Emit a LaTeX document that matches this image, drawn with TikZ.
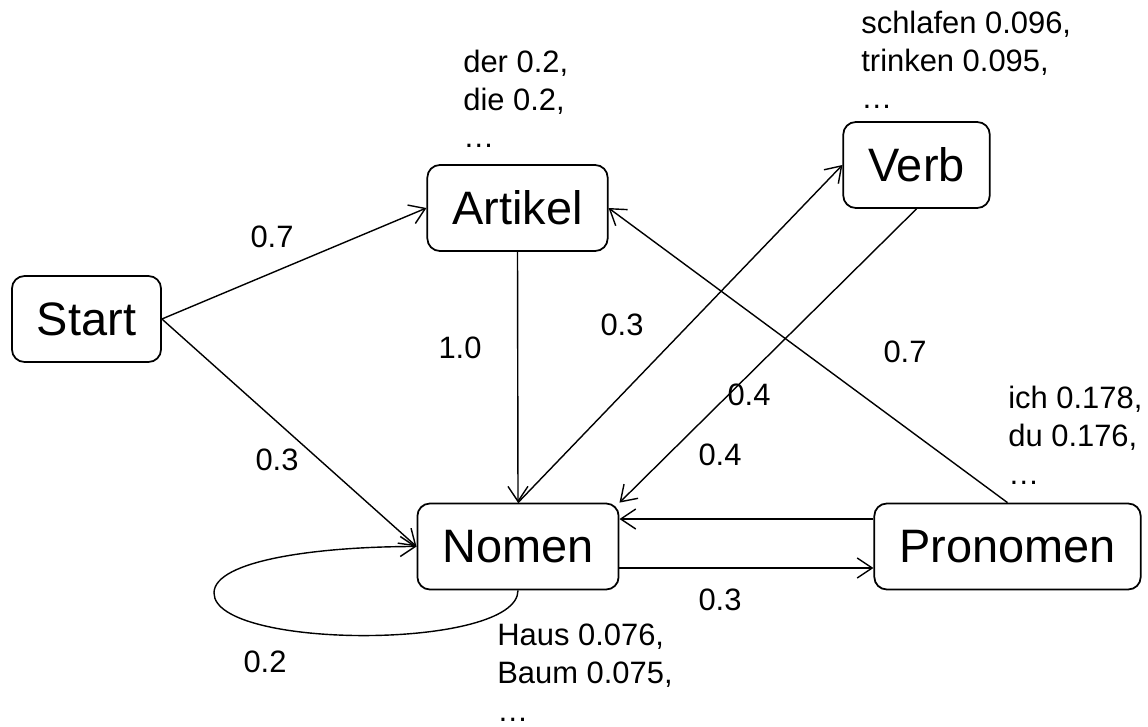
\documentclass[tikz,border=0pt]{standalone}
\usepackage{fontspec}
\setmainfont{Liberation Sans}
\usetikzlibrary{positioning,arrows.meta,calc}

\begin{document}
\begin{tikzpicture}[x=0.02cm,y=-0.02cm,
  state/.style={draw,line width=1pt,rounded corners=0.25cm,minimum height=1.72cm,
    inner xsep=0.5cm,font=\fontsize{26.7}{32}\selectfont},
  prob/.style={font=\fontsize{17.6}{21.6}\selectfont,inner sep=0pt},
  words/.style={prob,align=left,anchor=base west},
  trans/.style={line width=0.8pt,-{Straight Barb[length=0.3cm,width=0.4cm]}}]
  \useasboundingbox (0,0) rectangle (1148,726);
  % states
  \node[state] (start)    at (86.5,319)   {Start};
  \node[state] (artikel)  at (517.5,208)  {Artikel};
  \node[state] (verb)     at (916.5,165)  {Verb};
  \node[state] (nomen)    at (518,546.5)  {Nomen};
  \node[state] (pronomen) at (1007.5,546.5) {Pronomen};
  % transitions
  \draw[trans] (start.east) -- (artikel.west);
  \draw[trans] (start.east) -- (nomen.west);
  \draw[trans] (artikel.south) -- (nomen.north);
  \draw[trans] (nomen.north) -- (verb.west);
  \draw[trans] (verb.south) -- (nomen.north east);
  \draw[trans] (pronomen.north) -- (artikel.east);
  \draw[trans] ([yshift=0.55cm]pronomen.west) -- ([yshift=0.55cm]nomen.east);
  \draw[trans] ([yshift=-0.43cm]nomen.east) -- ([yshift=-0.43cm]pronomen.west);
  \coordinate (loopL) at (214,593);
  \draw[trans] (nomen.south) .. controls +(0,60) and +(0,57) .. (loopL)
    .. controls +(0,-33) and +(-97,0) .. (nomen.west);
  % transition probabilities
  \node[prob] (pSA) at (272,237) {0.7};
  \node[prob] (pSN) at (277,460) {0.3};
  \node[prob] (pAN) at (460,348) {1.0};
  \node[prob] (pNV) at (622,325) {0.3};
  \node[prob] (pPA) at (905,352) {0.7};
  \node[prob] (pVN) at (749,395) {0.4};
  \node[prob] (pPN) at (720,455) {0.4};
  \node[prob] (pNP) at (720,600) {0.3};
  \node[prob] (pNN) at (265,662) {0.2};
  % emission probabilities (anchored at the last baseline)
  \node[words] (wArtikel)  at (463,148)  {der 0.2,\\die 0.2,\\…};
  \node[words] (wVerb)     at (861,109)  {schlafen 0.096,\\trinken 0.095,\\…};
  \node[words] (wPronomen) at (1008,484) {ich 0.178,\\du 0.176,\\…};
  \node[words] (wNomen)    at (497,721)  {Haus 0.076,\\Baum 0.075,\\…};
\end{tikzpicture}
\end{document}
